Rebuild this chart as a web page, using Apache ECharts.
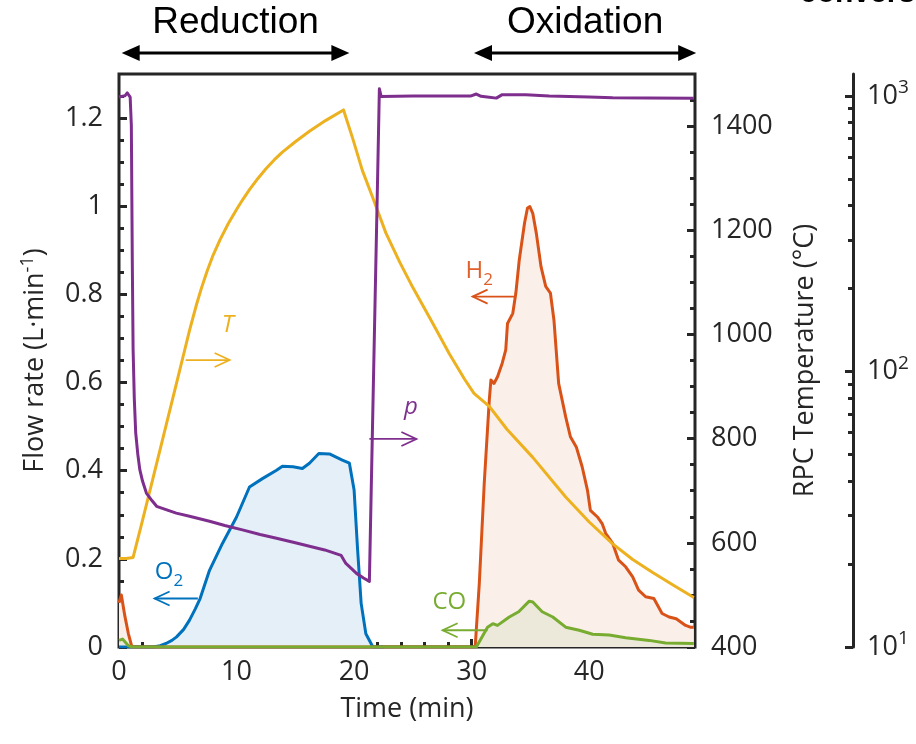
<!DOCTYPE html>
<html>
<head>
<meta charset="utf-8">
<script src="https://cdn.jsdelivr.net/npm/echarts@6/dist/echarts.min.js"></script>
<style>html,body{margin:0;padding:0;background:#fff;}#c{width:916px;height:744px;}</style>
</head>
<body>
<div id="c"></div>
<script>
// ---------- data ----------
const tempTime = [0, 0.6, 1.2, 2, 3, 4, 5, 5.5, 6.0, 6.6, 7.0, 7.5, 8.0, 8.6, 9.3, 10, 10.5, 11.1, 11.8, 12.5, 13.2, 13.9, 15, 16.2, 17.6, 19.1, 19.9, 20.7, 21.6, 22.7, 23.9, 25, 26.7, 28.1, 29.4, 30.2, 31.5, 33, 35.2, 38, 40, 42, 43.7, 45.4, 47.2, 48.9];
const tempVal  = [570, 570, 572, 643, 734, 825, 916, 962, 1008, 1058, 1088, 1122, 1152, 1182, 1213, 1240, 1258, 1278, 1299, 1318, 1335, 1350, 1370, 1390, 1411, 1431, 1375, 1315, 1262, 1195, 1138, 1090, 1021, 963, 914, 887, 862, 818, 764, 688, 640, 598, 568, 543, 518, 495];

const pTime = [0, 0.5, 0.7, 0.95, 1.05, 1.13, 1.2, 1.3, 1.42, 1.6, 1.77, 2.0, 2.33, 2.8, 3.2, 4, 4.87, 6, 7.7, 9, 10.5, 12, 13.4, 15, 16.2, 17.5, 18.9, 19.3, 19.8, 20.2, 20.8, 21.3, 21.5, 21.75, 22.0, 22.15, 22.3, 25, 28, 29.9, 30.4, 30.8, 31.5, 32.1, 32.6, 34.6, 36.6, 40, 42, 45, 48.9];
const pVal  = [990, 1000, 1025, 990, 780, 255, 120, 80, 60, 50, 44, 40, 36.2, 34, 32.4, 31.5, 30.6, 29.8, 28.6, 27.6, 26.6, 25.6, 24.8, 23.9, 23.2, 22.5, 21.5, 20.1, 19.2, 18.5, 17.8, 17.3, 46, 153, 505, 1060, 995, 998, 998, 998, 1015, 996, 988, 981, 1010, 1008, 998, 990, 983, 981, 980];

const o2Time = [0, 2.9, 3.5, 4, 4.5, 4.9, 5.5, 6, 6.5, 6.9, 7.7, 8.8, 10, 11.1, 12.2, 13.4, 13.9, 14.8, 15.6, 16.2, 17.0, 17.9, 19.0, 19.6, 20.0, 20.3, 20.6, 21.0, 21.6, 22.5];
const o2Val  = [0, 0, 0.003, 0.008, 0.015, 0.023, 0.04, 0.061, 0.087, 0.11, 0.174, 0.235, 0.295, 0.363, 0.382, 0.401, 0.41, 0.409, 0.405, 0.417, 0.439, 0.438, 0.424, 0.417, 0.356, 0.22, 0.099, 0.03, 0, 0];

const h2Time = [0, 0.2, 0.5, 0.8, 1.1, 30.3, 30.65, 31.07, 31.5, 31.64, 31.9, 32.2, 32.6, 32.9, 33.05, 33.5, 33.76, 34.05, 34.5, 34.75, 34.95, 35.2, 35.5, 35.9, 36.3, 36.7, 37.0, 37.4, 38.0, 38.4, 38.9, 39.4, 39.85, 40.1, 40.7, 41.1, 41.4, 42.0, 42.5, 43.1, 43.7, 44.2, 44.8, 45.5, 46.2, 46.8, 47.4, 48.2, 48.6, 48.9];
const h2Val  = [0.1, 0.118, 0.07, 0.03, 0, 0, 0.144, 0.371, 0.56, 0.606, 0.598, 0.613, 0.644, 0.674, 0.734, 0.757, 0.803, 0.878, 0.962, 0.996, 0.999, 0.984, 0.939, 0.863, 0.818, 0.803, 0.742, 0.598, 0.522, 0.477, 0.454, 0.409, 0.356, 0.31, 0.295, 0.28, 0.258, 0.235, 0.197, 0.182, 0.159, 0.129, 0.114, 0.11, 0.076, 0.068, 0.064, 0.049, 0.045, 0.045];

const coTime = [0, 0.3, 0.8, 1.1, 30.4, 31.35, 31.8, 32.2, 33.2, 34.0, 34.9, 35.2, 36.0, 36.9, 38.0, 39.15, 40.3, 41.7, 43.1, 45.1, 46.5, 48.9];
const coVal  = [0.015, 0.018, 0.003, 0, 0, 0.045, 0.053, 0.049, 0.068, 0.08, 0.104, 0.102, 0.08, 0.068, 0.045, 0.038, 0.029, 0.027, 0.021, 0.015, 0.009, 0.008];

const xMajorTicks = [0, 10, 20, 30, 40];
const xMinorTicks = [2, 4, 6, 8, 12, 14, 16, 18, 22, 24, 26, 28, 32, 34, 36, 38, 42, 44, 46, 48];
const flowMajorTicks = [0, 0.2, 0.4, 0.6, 0.8, 1, 1.2];
const flowMinorTicks = [0.05, 0.1, 0.15, 0.25, 0.3, 0.35, 0.45, 0.5, 0.55, 0.65, 0.7, 0.75, 0.85, 0.9, 0.95, 1.05, 1.1, 1.15, 1.25];
const tempMajorTicks = [400, 600, 800, 1000, 1200, 1400];
const tempMinorTicks = [450, 500, 550, 650, 700, 750, 850, 900, 950, 1050, 1100, 1150, 1250, 1300, 1350, 1450];
const pMajorTicks = [10, 100, 1000];
const pMinorTicks = [20, 30, 40, 50, 60, 70, 80, 90, 200, 300, 400, 500, 600, 700, 800, 900];

// ---------- styling ----------
const FONT = 'Open Sans';
const INK = '#262626';
const C = { T: '#EDB120', p: '#7E2F8E', O2: '#0072BD', H2: '#D95319', CO: '#77AC30' };

const zip = (a, b) => a.map((t, i) => [t, b[i]]);

const chart = echarts.init(document.getElementById('c'), null, { renderer: 'canvas' });

function tickAxisX(values, len, labels) {
  return {
    type: 'value', min: 0, max: 49, position: 'bottom',
    axisLine: { show: false }, splitLine: { show: false },
    axisTick: { show: true, inside: true, length: len, customValues: values, lineStyle: { color: INK, width: 3 } },
    axisLabel: labels ? { show: true, customValues: values, margin: 12, fontSize: 27, fontFamily: FONT, color: INK, formatter: v => String(v) } : { show: false }
  };
}
function tickAxisY(min, max, pos, values, len, labels, extra) {
  return Object.assign({
    type: 'value', min: min, max: max, position: pos,
    axisLine: { show: false }, splitLine: { show: false },
    axisTick: { show: true, inside: true, length: len, customValues: values, lineStyle: { color: INK, width: 3 } },
    axisLabel: labels ? { show: true, customValues: values, margin: 16, fontSize: 27, fontFamily: FONT, color: INK, formatter: v => String(v) } : { show: false }
  }, extra || {});
}

const xMain = tickAxisX(xMajorTicks, 8, true);
xMain.name = 'Time (min)';
xMain.nameLocation = 'middle';
xMain.nameGap = 49;
xMain.nameTextStyle = { fontSize: 27, fontFamily: FONT, color: INK };

const yFlow = tickAxisY(0, 1.3, 'left', flowMajorTicks, 8, true, {
  name: 'Flow rate (L·min{sup|-1})', nameLocation: 'middle', nameRotate: 90, nameGap: 68,
  nameTextStyle: { fontSize: 27, fontFamily: FONT, color: INK,
    rich: { sup: { fontSize: 18, fontFamily: FONT, color: INK, padding: [0, 0, 14, 0] } } }
});
const yFlowMinor = tickAxisY(0, 1.3, 'left', flowMinorTicks, 5, false);
const yTemp = tickAxisY(400, 1500, 'right', tempMajorTicks, 8, true, {
  name: 'RPC Temperature (°C)', nameLocation: 'middle', nameRotate: 90, nameGap: 97,
  nameTextStyle: { fontSize: 27, fontFamily: FONT, color: INK }
});
const yTempMinor = tickAxisY(400, 1500, 'right', tempMinorTicks, 5, false);
const yP = {
  type: 'log', logBase: 10, min: 10, max: 1200, position: 'right', offset: 158,
  axisLine: { show: true, lineStyle: { color: INK, width: 3 } }, splitLine: { show: false },
  axisTick: { show: true, inside: true, length: 8, customValues: pMajorTicks, lineStyle: { color: INK, width: 3 } },
  axisLabel: { show: true, customValues: pMajorTicks, margin: 14, color: INK,
    formatter: v => '{b|10}{s|' + Math.round(Math.log10(v)) + '}',
    rich: { b: { fontSize: 27, fontFamily: FONT, color: INK },
            s: { fontSize: 19, fontFamily: FONT, color: INK, padding: [0, 0, 16, 0] } } }
};
const yPMinor = {
  type: 'log', logBase: 10, min: 10, max: 1200, position: 'right', offset: 158,
  axisLine: { show: false }, splitLine: { show: false },
  axisTick: { show: true, inside: true, length: 5, customValues: pMinorTicks, lineStyle: { color: INK, width: 3 } },
  axisLabel: { show: false }
};

function lineSeries(name, data, color, yIdx, area) {
  const s = {
    name: name, type: 'line', data: data, xAxisIndex: 0, yAxisIndex: yIdx,
    showSymbol: false, symbol: 'none', smooth: false,
    lineStyle: { color: color, width: 3, join: 'round' }, clip: true
  };
  if (area) s.areaStyle = { color: area, opacity: 1 };
  return s;
}

chart.setOption({
  animation: false,
  backgroundColor: '#ffffff',
  grid: { left: 119, right: 221, top: 74, bottom: 97, show: true, borderColor: INK, borderWidth: 3, backgroundColor: 'transparent' },
  xAxis: [xMain, tickAxisX(xMinorTicks, 5, false)],
  yAxis: [yFlow, yFlowMinor, yTemp, yTempMinor, yP, yPMinor],
  series: [
    lineSeries('O2', zip(o2Time, o2Val), C.O2, 0, '#e4eff8'),
    lineSeries('H2', zip(h2Time, h2Val), C.H2, 0, '#fbefea'),
    lineSeries('CO', zip(coTime, coVal), C.CO, 0, '#ece9db'),
    lineSeries('T', zip(tempTime, tempVal), C.T, 2),
    lineSeries('p', zip(pTime, pVal), C.p, 4)
  ]
});

// ---------- annotations (positions in data coordinates: [time, flow]) ----------
const annotArrows = [
  { from: [5.67, 0.651], to: [9.41, 0.651], color: C.T },
  { from: [21.3, 0.472], to: [25.3, 0.472], color: C.p },
  { from: [6.71, 0.11], to: [3.03, 0.11], color: C.O2 },
  { from: [33.76, 0.795], to: [30.08, 0.795], color: C.H2 },
  { from: [31.35, 0.038], to: [27.53, 0.038], color: C.CO }
];
const annotLabels = [
  { at: [9.26, 0.73], text: 'T', color: C.T, italic: true },
  { at: [24.84, 0.545], text: 'p', color: C.p, italic: true },
  { at: [4.25, 0.17], text: 'O{s|2}', color: C.O2 },
  { at: [30.65, 0.852], text: 'H{s|2}', color: '#E0602A' },
  { at: [28.1, 0.102], text: 'CO', color: C.CO }
];
const phases = [
  { text: 'Reduction', from: 0.23, to: 19.6 },
  { text: 'Oxidation', from: 30.2, to: 49.1 }
];

function toPx(pt) { return chart.convertToPixel({ xAxisIndex: 0, yAxisIndex: 0 }, pt); }

const g = [];
annotArrows.forEach(a => {
  const p0 = toPx(a.from), p1 = toPx(a.to);
  const dir = p1[0] > p0[0] ? 1 : -1;
  g.push({ type: 'line', shape: { x1: p0[0], y1: p0[1], x2: p1[0], y2: p1[1] }, style: { stroke: a.color, lineWidth: 1.8 }, z: 50 });
  g.push({ type: 'polyline', shape: { points: [[p1[0] - dir * 15, p1[1] - 7], [p1[0], p1[1]], [p1[0] - dir * 15, p1[1] + 7]] },
    style: { stroke: a.color, lineWidth: 1.8, fill: null }, z: 50 });
});
annotLabels.forEach(l => {
  const p = toPx(l.at);
  g.push({ type: 'text', x: p[0], y: p[1], z: 50, style: {
    text: l.text, fill: l.color, fontSize: 24, fontFamily: FONT, fontStyle: l.italic ? 'italic' : 'normal',
    align: 'center', verticalAlign: 'middle',
    rich: { s: { fontSize: 17, fontFamily: FONT, fill: l.color, padding: [18, 0, 0, 0] } } } });
});
phases.forEach(ph => {
  const x0 = toPx([ph.from, 0])[0], x1 = toPx([ph.to, 0])[0];
  const y = 53;
  g.push({ type: 'line', shape: { x1: x0 + 10, y1: y, x2: x1 - 10, y2: y }, style: { stroke: '#000', lineWidth: 3 } });
  g.push({ type: 'polygon', shape: { points: [[x0, y], [x0 + 18, y - 8], [x0 + 18, y + 8]] }, style: { fill: '#000' } });
  g.push({ type: 'polygon', shape: { points: [[x1, y], [x1 - 18, y - 8], [x1 - 18, y + 8]] }, style: { fill: '#000' } });
  g.push({ type: 'text', x: (x0 + x1) / 2, y: 23, style: { text: ph.text, fill: '#000', fontSize: 37,
    fontFamily: 'Liberation Sans', align: 'center', verticalAlign: 'middle' } });
});
g.push({ type: 'text', x: 800, y: -6, style: { text: 'conversion', fill: '#000', fontSize: 30, fontWeight: 'bold',
  fontFamily: 'Liberation Sans', align: 'left', verticalAlign: 'middle' } });

chart.setOption({ graphic: g });
</script>
</body>
</html>
